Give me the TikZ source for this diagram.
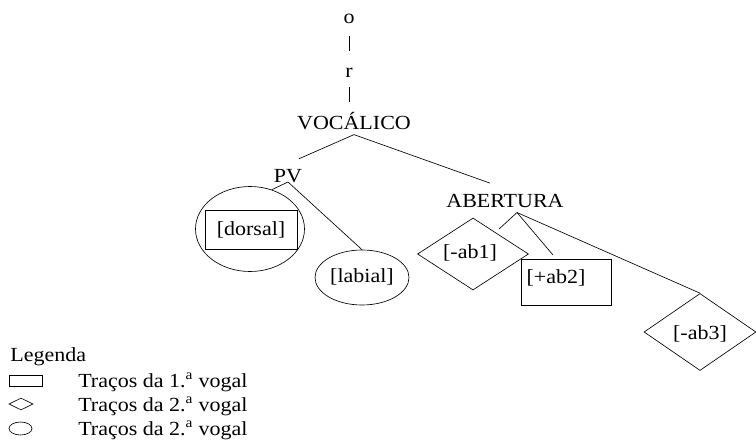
\documentclass[tikz,border=0pt]{standalone}
\usepackage{fontspec}
\setmainfont{Liberation Serif}[FakeStretch=1.1]
\usetikzlibrary{shapes.geometric,calc}

\begin{document}
\begin{tikzpicture}[x=1pt,y=-1pt,line width=0.65pt,
  every node/.style={font=\fontsize{20}{24}\selectfont},
  rotulo/.style={inner sep=5pt, anchor=base},
  traco/.style={draw, inner sep=0pt},
  legtexto/.style={anchor=base west, inner sep=0pt}]

\useasboundingbox (0,0) rectangle (756,442);

% Raiz
\node[rotulo] (o) at (349,23) {o};
\node[rotulo] (r) at (349,77) {r};
\node[rotulo] (voc) at (354,129) {VOCÁLICO};
\node[rotulo] (pv) at (288,182) {PV};
\node[rotulo] (abert) at (505,207) {ABERTURA};

% Tracos de PV
\node[traco, ellipse, minimum width=109pt, minimum height=85pt] (dorsalelip) at (250,229) {};
\node[traco, rectangle, minimum width=92pt, minimum height=39pt] (dorsal) at (251,230) {[dorsal]};
\node[traco, ellipse, minimum width=94pt, minimum height=55pt] (labialelip) at (362,277.5) {};
\node (labial) at (362,277) {[labial]};

% Tracos de ABERTURA
\node[traco, diamond, minimum width=111pt, minimum height=72pt] (ab1losango) at (473,254) {};
\node (ab1) at (470,253) {[-ab1]};
\node[traco, rectangle, fill=white, minimum width=90pt, minimum height=46pt] (ab2ret) at (566,282) {};
\node (ab2) at (556,278) {[+ab2]};
\node[traco, diamond, minimum width=112pt, minimum height=77pt] (ab3losango) at (700,332) {};
\node (ab3) at (700,334) {[-ab3]};

% Ramos
\draw[shorten <=7pt, shorten >=11pt] (o.south) -- (r.north);
\draw[shorten <=5pt, shorten >=5pt] (r.south) -- (r.south |- voc.north);
\draw[shorten >=12pt] (voc.south) -- (pv.north);
\draw[shorten >=16pt] (voc.south) -- (abert.north);
\draw (pv.base) -- (dorsalelip.61);
\draw (pv.base) -- (labialelip.north);
\coordinate (abertpe) at ($(abert.south)+(12,0)$);
\draw[shorten >=5pt] (abertpe) -- (ab1losango.44);
\draw[shorten >=5pt] (abertpe) -- (ab2ret.113);
\draw (abertpe) -- (ab3losango.north);

% Legenda
\node[legtexto] (legenda) at (10,361) {Legenda};
\node[traco, rectangle, minimum width=33pt, minimum height=11pt] (simbret) at (25.5,380.5) {};
\node[traco, diamond, minimum width=24pt, minimum height=12pt] (simblos) at (21,404) {};
\node[traco, ellipse, minimum width=23pt, minimum height=13pt] (simbelip) at (20.5,428.5) {};
\node[legtexto] (leg1) at (78,387) {Traços da 1.\textsuperscript{a} vogal};
\node[legtexto] (leg2) at (78,411) {Traços da 2.\textsuperscript{a} vogal};
\node[legtexto] (leg3) at (78,435) {Traços da 2.\textsuperscript{a} vogal};

\end{tikzpicture}
\end{document}
